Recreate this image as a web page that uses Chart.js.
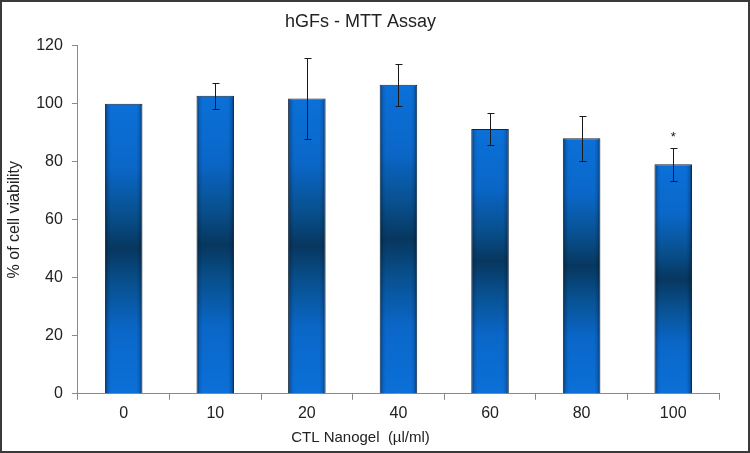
<!DOCTYPE html>
<html>
<head>
<meta charset="utf-8">
<title>hGFs - MTT Assay</title>
<script src="https://cdn.jsdelivr.net/npm/chart.js@4/dist/chart.umd.min.js"></script>
<style>
    html, body { margin: 0; padding: 0; background: #ffffff; }
    #wrap { width: 750px; height: 453px; position: relative; }
</style>
</head>
<body>
<div id="wrap"><canvas id="chart-mtt"></canvas></div>
<script>
// concentrations (µl/ml) and % viability
const doses = ['0', '10', '20', '40', '60', '80', '100'];
const viability = [100, 102.7, 101.8, 106.5, 91.3, 88.1, 79.1];
const viabilitySD = [0, 4.4, 13.9, 7.3, 5.5, 7.7, 5.7];
const marks = ['', '', '', '', '', '', '*'];
const yTicks = [0, 20, 40, 60, 80, 100, 120];

const FONT = "'Liberation Sans', Arial, sans-serif";
const TEXT = '#222222';
const AXIS = '#8a8a8a';

// vertical "cylinder" fill: bright at the ends, dark band in the middle
function barFill(ctx) {
    const chart = ctx.chart;
    if (!chart.chartArea || ctx.type !== 'data') return '#0a6ad2';
    const y = chart.scales.y;
    const top = y.getPixelForValue(ctx.parsed.y);
    const base = y.getPixelForValue(0);
    const g = chart.ctx.createLinearGradient(0, top, 0, base);
    g.addColorStop(0, '#0b70d8');
    g.addColorStop(0.22, '#0a67c8');
    g.addColorStop(0.38, '#08508f');
    g.addColorStop(0.5, '#07375f');
    g.addColorStop(0.62, '#08508f');
    g.addColorStop(0.78, '#0a67c8');
    g.addColorStop(1, '#0b70d8');
    return g;
}

const frame = {
    id: 'frame',
    beforeDraw(chart) {
        const c = chart.ctx;
        c.save();
        c.fillStyle = '#ffffff';
        c.fillRect(0, 0, chart.width, chart.height);
        c.restore();
    },
    afterDraw(chart) {
        const c = chart.ctx;
        c.save();
        c.strokeStyle = '#3a3a3a';
        c.lineWidth = 2;
        c.strokeRect(1, 1, chart.width - 2, chart.height - 2);
        c.restore();
    }
};

const barDecor = {
    id: 'barDecor',
    afterDatasetsDraw(chart) {
        const c = chart.ctx;
        const y = chart.scales.y;
        const meta = chart.getDatasetMeta(0);
        c.save();
        meta.data.forEach((bar, i) => {
            // darker side edges
            const left = bar.x - bar.width / 2;
            const g = c.createLinearGradient(left, 0, left + bar.width, 0);
            g.addColorStop(0, 'rgba(0,15,35,0.6)');
            g.addColorStop(0.08, 'rgba(0,15,35,0.15)');
            g.addColorStop(0.16, 'rgba(0,15,35,0)');
            g.addColorStop(0.84, 'rgba(0,15,35,0)');
            g.addColorStop(0.92, 'rgba(0,15,35,0.15)');
            g.addColorStop(1, 'rgba(0,15,35,0.6)');
            c.fillStyle = g;
            c.fillRect(left + 1, bar.y + 1, bar.width - 2, bar.base - bar.y - 1);

            // error bars
            const sd = viabilitySD[i];
            if (sd > 0) {
                const hi = Math.round(y.getPixelForValue(viability[i] + sd)) + 0.5;
                const lo = Math.round(y.getPixelForValue(viability[i] - sd)) + 0.5;
                const x = Math.round(bar.x) + 0.5;
                c.strokeStyle = '#1a1a1a';
                c.lineWidth = 1;
                c.beginPath();
                c.moveTo(x, hi); c.lineTo(x, lo);
                c.moveTo(x - 3, hi); c.lineTo(x + 4, hi);
                c.moveTo(x - 3, lo); c.lineTo(x + 4, lo);
                c.stroke();
            }

            // significance mark
            if (marks[i]) {
                c.fillStyle = '#111111';
                c.font = '13px ' + FONT;
                c.textAlign = 'center';
                c.textBaseline = 'middle';
                c.fillText(marks[i], bar.x, y.getPixelForValue(viability[i] + sd) - 10);
            }
        });
        c.restore();
    }
};

new Chart(document.getElementById('chart-mtt'), {
    type: 'bar',
    data: {
        labels: doses,
        datasets: [{
            label: '% of cell viability',
            data: viability,
            backgroundColor: barFill,
            borderColor: '#14263a',
            borderWidth: 1,
            barPercentage: 0.41,
            categoryPercentage: 1
        }]
    },
    options: {
        responsive: true, maintainAspectRatio: false, animation: false,
        layout: { padding: { left: 2, right: 31, top: 3, bottom: 2 } },
        scales: {
            x: {
                grid: { display: true, drawOnChartArea: false, drawTicks: true, tickLength: 6, color: AXIS, offset: true },
                border: { display: true, color: AXIS, width: 1 },
                ticks: { color: TEXT, padding: 4, font: { family: FONT, size: 16 } }
            },
            y: {
                min: 0, max: 120,
                afterBuildTicks: (axis) => { axis.ticks = yTicks.map(v => ({ value: v })); },
                grid: { display: true, drawOnChartArea: false, drawTicks: true, tickLength: 6, color: AXIS },
                border: { display: true, color: AXIS, width: 1 },
                ticks: { color: TEXT, padding: 9, font: { family: FONT, size: 16 } },
                title: { display: true, text: '% of cell viability', color: TEXT, padding: { top: 3, bottom: 3 }, font: { family: FONT, size: 16 } }
            }
        },
        plugins: {
            legend: { display: false },
            tooltip: { enabled: false },
            title: { display: true, text: 'hGFs - MTT Assay', color: TEXT, padding: { top: 8, bottom: 13 }, font: { family: FONT, size: 18, weight: 'normal' } },
            subtitle: { display: true, position: 'bottom', text: 'CTL Nanogel  (µl/ml)', color: TEXT, padding: { top: 2, bottom: 4 }, font: { family: FONT, size: 15, weight: 'normal' } }
        }
    },
    plugins: [frame, barDecor]
});
</script>
</body>
</html>
